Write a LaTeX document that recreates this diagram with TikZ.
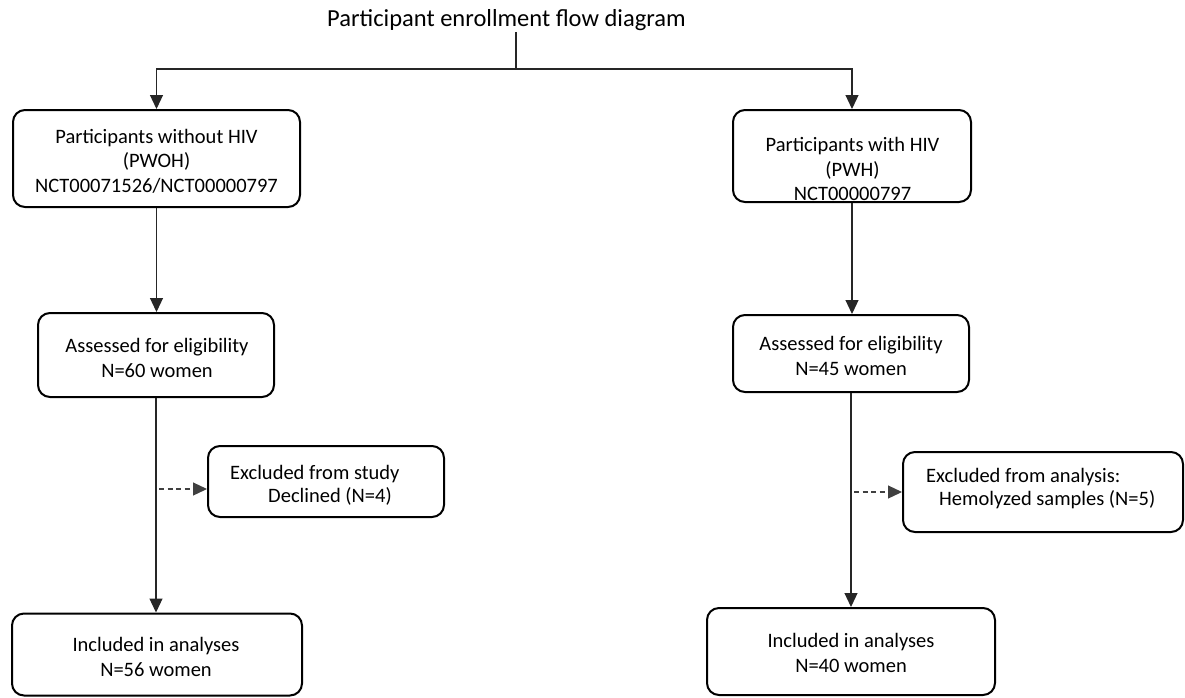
\documentclass[tikz,border=0pt]{standalone}
\usepackage{fontspec}
\setmainfont{Carlito}
\usetikzlibrary{arrows.meta}
\begin{document}
\begin{tikzpicture}[x=1pt,y=-1pt,
  box/.style={draw=black, line width=2pt, rounded corners=12pt, inner sep=0pt},
  txt/.style={align=center, inner sep=0pt, font=\fontsize{20.5}{24.5}\selectfont, text=black},
  txtl/.style={align=left, inner sep=0pt, anchor=west, font=\fontsize{20.5}{23}\selectfont, text=black},
  conn/.style={draw=black!85, line width=1.2pt, -{Triangle[length=14pt,width=13pt]}},
  dconn/.style={draw=black!75, line width=1.2pt, dash pattern=on 5pt off 3.5pt, -{Triangle[length=14pt,width=13pt]}},
  plain/.style={draw=black!85, line width=1.2pt}]
\useasboundingbox (0,0) rectangle (1185,697);

% title
\node[inner sep=0pt, font=\fontsize{24.5}{29}\selectfont, text=black] (title) at (506.5,20) {Participant enrollment flow diagram};
\coordinate (j) at (516,69);

% boxes
\node[box, minimum width=287pt, minimum height=97pt] (A) at (156.5,158.5) {};
\node[box, minimum width=238pt, minimum height=92pt] (B) at (852,156) {};
\node[box, minimum width=236pt, minimum height=84pt] (C) at (156,355) {};
\node[box, minimum width=236pt, minimum height=77pt] (D) at (851,353.5) {};
\node[box, minimum width=236pt, minimum height=71pt] (E) at (326,481.5) {};
\node[box, minimum width=280pt, minimum height=80pt] (F) at (1043,492) {};
\node[box, minimum width=290pt, minimum height=82pt] (G) at (157,654.5) {};
\node[box, minimum width=288pt, minimum height=87pt] (H) at (851,651.5) {};

% texts
\node[txt] (At) at (156.5,161) {Participants without HIV\\(PWOH)\\NCT00071526/NCT00000797};
\node[txt] (Bt) at (852.5,169) {Participants with HIV\\(PWH)\\NCT00000797};
\node[txt] (Ct) at (157,358) {Assessed for eligibility\\N=60 women};
\node[txt] (Dt) at (851,356) {Assessed for eligibility\\N=45 women};
\node[txtl] (Et) at (230,485) {Excluded from study\\\hspace*{38pt}Declined (N=4)};
\node[txtl] (Ft) at (926,489) {Excluded from analysis:\\\hspace*{13pt}Hemolyzed samples (N=5)};
\node[txt] (Gt) at (156,657) {Included in analyses\\N=56 women};
\node[txt] (Ht) at (851,653) {Included in analyses\\N=40 women};

% connectors
\draw[plain] (title.south -| j) ++(0,1) -- (j);
\draw[conn] (j) -| (A.north);
\draw[conn] (j) -| (B.north);
\draw[conn] (A.south) -- (A.south |- C.north);
\draw[conn] (C.south) -- (C.south |- G.north);
\draw[conn] (B.south) -- (B.south |- D.north);
\draw[conn] (D.south) -- (D.south |- H.north);

\coordinate (de) at (159,489);
\coordinate (df) at (854,492);
\draw[dconn] (de) -- (de -| E.west);
\draw[dconn] (df) -- (df -| F.west);
\end{tikzpicture}
\end{document}
